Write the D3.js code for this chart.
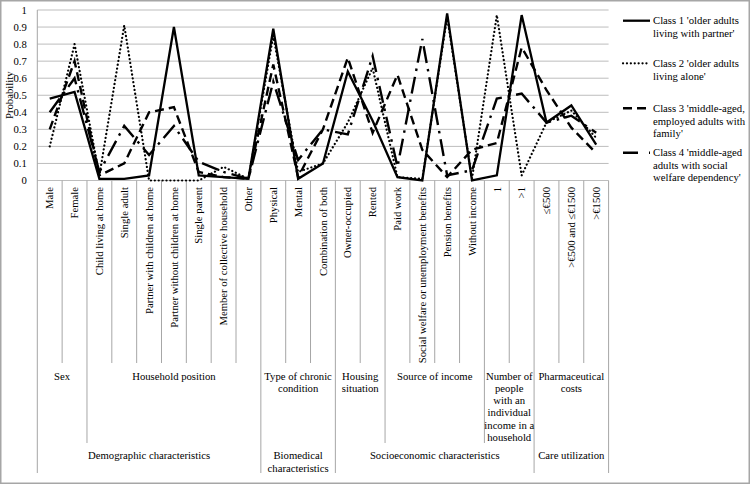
<!DOCTYPE html>
<html><head><meta charset="utf-8">
<script src="https://cdn.jsdelivr.net/npm/d3@7"></script>
<style>
html,body{margin:0;padding:0;background:#fff;}
svg text{font-family:"Liberation Serif","Times New Roman","DejaVu Serif",serif;font-size:10.7px;fill:#000;}
</style></head>
<body><svg id="chart" width="750" height="484" font-family="Liberation Serif, Times New Roman, serif"></svg>
<script>
const categories = ["Male","Female","Child living at home","Single adult","Partner with children at home","Partner without children at home","Single parent","Member of collective household","Other","Physical","Mental","Combination of both","Owner-occupied","Rented","Paid work","Social welfare or unemployment benefits","Pension benefits","Without income","1",">1","≤€500",">€500 and ≤€1500",">€1500"];
const subgroupLabels = ["Sex","Household position","Type of chronic\ncondition","Housing\nsituation","Source of income","Number of\npeople\nwith an\nindividual\nincome in a\nhousehold","Pharmaceutical\ncosts"];
const subgroupSizes = [2,7,3,2,4,2,3];
const groupLabels = ["Demographic characteristics","Biomedical\ncharacteristics","Socioeconomic characteristics","Care utilization"];
const groupSizes = [9,3,8,3];
const seriesNames = ["Class 1 'older adults\nliving with partner'","Class 2 'older adults\nliving alone'","Class 3 'middle-aged,\nemployed adults with\nfamily'","Class 4 'middle-aged\nadults with social\nwelfare dependency'"];
const class1 = [0.48,0.52,0.01,0.01,0.03,0.90,0.03,0.02,0.01,0.89,0.01,0.10,0.64,0.35,0.02,0.00,0.98,0.00,0.03,0.97,0.34,0.44,0.21];
const class2 = [0.20,0.80,0.03,0.91,0.00,0.00,0.00,0.08,0.01,0.85,0.05,0.10,0.34,0.66,0.02,0.01,0.96,0.01,0.97,0.03,0.34,0.41,0.25];
const class3 = [0.30,0.70,0.03,0.10,0.40,0.43,0.05,0.02,0.01,0.68,0.02,0.30,0.72,0.28,0.62,0.18,0.02,0.18,0.22,0.78,0.53,0.31,0.16];
const class4 = [0.40,0.60,0.05,0.32,0.15,0.32,0.11,0.05,0.01,0.58,0.12,0.30,0.27,0.73,0.08,0.83,0.03,0.06,0.48,0.51,0.34,0.38,0.28];
const yTicks = [0,0.1,0.2,0.3,0.4,0.5,0.6,0.7,0.8,0.9,1];

(function(){
const allSeries = [class1,class2,class3,class4];
const styles = [
  {w:2.3, dash:null, cap:"butt"},
  {w:2.2, dash:"0.1,3.8", cap:"round"},
  {w:2.4, dash:"9,5", cap:"butt"},
  {w:2.4, dash:"17,6,2.5,6", cap:"butt"}
];

const svg = d3.select("#chart");
const pL = 37.3, pR = 608.6, pT = 10, pB = 180.5;
const x = d3.scaleBand().domain(categories).range([pL,pR]).padding(0);
const y = d3.scaleLinear().domain([0,1]).range([pB,pT]);
const bw = x.bandwidth();
const gridColor = "#bdbdbd", axisColor = "#a6a6a6";
const ff = '"Liberation Serif","Times New Roman","DejaVu Serif",serif';

svg.append("rect").attr("x",0.75).attr("y",0.75).attr("width",748.5).attr("height",482.5)
  .attr("fill","none").attr("stroke","#a6a6a6").attr("stroke-width",1.5);

svg.append("g").selectAll("line").data(yTicks).join("line")
  .attr("x1",pL).attr("x2",pR).attr("y1",d=>y(d)).attr("y2",d=>y(d))
  .attr("stroke",gridColor).attr("stroke-width",1);

const yAxis = d3.axisLeft(y).tickValues(yTicks).tickSize(0).tickPadding(10.5).tickFormat(d3.format("~g"));
const ga = svg.append("g").attr("transform",`translate(${pL},0)`).call(yAxis);
ga.attr("font-family",null).attr("font-size",null);
ga.select(".domain").remove();
ga.selectAll("text").style("font-family",ff).style("font-size","10.7px").attr("fill","#000");
svg.append("line").attr("x1",pL).attr("x2",pL).attr("y1",pT).attr("y2",473).attr("stroke",axisColor).attr("stroke-width",1);

svg.append("text").attr("transform",`translate(13,${(pT+pB)/2}) rotate(-90)`).attr("text-anchor","middle").text("Probability");

const subB = new Set(), grpB = new Set();
let acc=0; subgroupSizes.forEach(s=>{acc+=s; subB.add(acc);});
acc=0; groupSizes.forEach(s=>{acc+=s; grpB.add(acc);});
const bounds = d3.range(1, categories.length+1);
svg.append("g").selectAll("line").data(bounds).join("line")
  .attr("x1",i=>pL+i*bw).attr("x2",i=>pL+i*bw).attr("y1",pB)
  .attr("y2",i=>grpB.has(i)?473:(subB.has(i)?443:363))
  .attr("stroke",axisColor).attr("stroke-width",1);

svg.append("g").selectAll("text").data(categories).join("text")
  .attr("transform",d=>`translate(${x(d)+bw/2+3.7},187) rotate(-90)`)
  .attr("text-anchor","end").text(d=>d);

function multiLine(sel, label, cx, cy, lh){
  const lines = label.split("\n");
  const t = sel.append("text").attr("text-anchor","middle");
  lines.forEach((l,k)=>t.append("tspan").attr("x",cx).attr("y",cy+k*lh).text(l));
}
acc=0;
subgroupLabels.forEach((lab,k)=>{
  const cx = pL+(acc+subgroupSizes[k]/2)*bw; acc+=subgroupSizes[k];
  multiLine(svg, lab, cx, 379.7, 12.2);
});
acc=0;
groupLabels.forEach((lab,k)=>{
  const cx = pL+(acc+groupSizes[k]/2)*bw; acc+=groupSizes[k];
  multiLine(svg, lab, cx, 459.4, 12.2);
});

const line = d3.line().x((d,i)=>x(categories[i])+bw/2).y(d=>y(d));
allSeries.forEach((s,k)=>{
  const st = styles[k];
  const p = svg.append("path").datum(s).attr("d",line).attr("fill","none")
    .attr("stroke","#000").attr("stroke-width",st.w).attr("stroke-linejoin","miter")
    .attr("stroke-linecap",st.cap);
  if(st.dash) p.attr("stroke-dasharray",st.dash);
});

const legY = [20.7,63.3,108.3,152.7];
seriesNames.forEach((name,k)=>{
  const st = styles[k];
  const l = svg.append("line").attr("x1",623).attr("x2",650).attr("y1",legY[k]).attr("y2",legY[k])
    .attr("stroke","#000").attr("stroke-width",st.w).attr("stroke-linecap",st.cap);
  if(st.dash) l.attr("stroke-dasharray",k===3?"15,11,2.5,6":st.dash);
  const t = svg.append("text").attr("text-anchor","start");
  name.split("\n").forEach((ln,j)=>t.append("tspan").attr("x",653).attr("y",legY[k]+3.7+j*12.5).text(ln));
});
})();
</script></body></html>
